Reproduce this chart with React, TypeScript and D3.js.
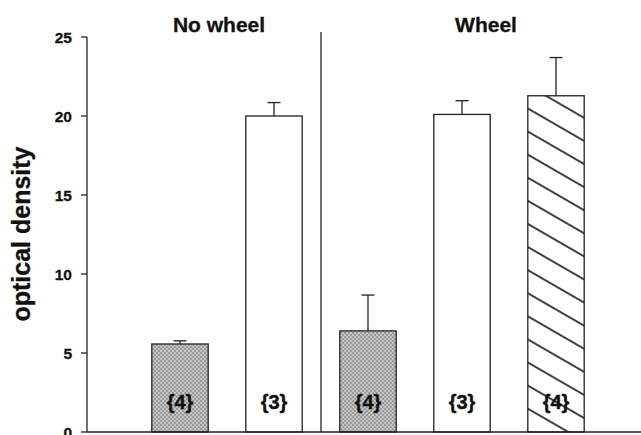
import React from "react";
import * as d3 from "d3";

// Bars in drawing order: two conditions without wheel, three with wheel
const categories = ["nw-a", "nw-b", "w-a", "w-b", "w-c"];
const means = [5.57, 20.0, 6.4, 20.1, 21.28];
const errors = [0.2, 0.85, 2.27, 0.87, 2.42];
const fills = ["dots", "white", "dots", "white", "hatch"];
const counts = ["{4}", "{3}", "{4}", "{3}", "{4}"];
const yTicks = [0, 5, 10, 15, 20, 25];
const groupTitles = ["No wheel", "Wheel"];

const W = 641;
const H = 435;
const axisX = 87;
const yTop = 37;
const yBottom = 432;
const FONT = "'Liberation Sans', Arial, sans-serif";

export default function App() {
  const y = d3.scaleLinear().domain([0, 25]).range([yBottom, yTop]);
  const x = d3
    .scaleBand<string>()
    .domain(categories)
    .range([133, 603])
    .paddingInner(0.4)
    .paddingOuter(0.2);
  const bw = x.bandwidth();
  const cx = (i: number) => (x(categories[i]) as number) + bw / 2;
  const dividerX = (cx(1) + cx(2)) / 2;

  const fillFor = (f: string) =>
    f === "dots" ? "url(#dots)" : f === "hatch" ? "url(#hatch)" : "#fff";

  return (
    <svg
      width={W}
      height={H}
      style={{ position: "absolute", left: 0, top: 0, background: "#fff" }}
    >
      <defs>
        <pattern id="dots" width="4" height="4" patternUnits="userSpaceOnUse">
          <rect width="4" height="4" fill="#c4c4c4" />
          <rect width="2" height="2" fill="#9a9a9a" />
          <rect x="2" y="2" width="2" height="2" fill="#9a9a9a" />
        </pattern>
        <pattern
          id="hatch"
          width="20"
          height="20"
          patternUnits="userSpaceOnUse"
          patternTransform="rotate(30)"
        >
          <rect width="20" height="20" fill="#fff" />
          <line x1="0" y1="10" x2="20" y2="10" stroke="#111" strokeWidth="1.6" />
        </pattern>
      </defs>

      {/* bars */}
      {means.map((m, i) => (
        <rect
          key={categories[i]}
          x={x(categories[i])}
          y={y(m)}
          width={bw}
          height={y(0) - y(m)}
          fill={fillFor(fills[i])}
          stroke="#222"
          strokeWidth={1.3}
        />
      ))}

      {/* error bars (upper only) */}
      {means.map((m, i) => (
        <g key={"err" + i} stroke="#222" strokeWidth={1.3}>
          <line x1={cx(i)} x2={cx(i)} y1={y(m)} y2={y(m + errors[i])} />
          <line
            x1={cx(i) - 6.5}
            x2={cx(i) + 6.5}
            y1={y(m + errors[i])}
            y2={y(m + errors[i])}
          />
        </g>
      ))}

      {/* sample sizes */}
      {counts.map((c, i) => (
        <text
          key={"n" + i}
          x={cx(i)}
          y={409}
          textAnchor="middle"
          fontFamily={FONT}
          fontWeight="bold"
          fontSize={20}
          fill="#111"
          stroke="#111"
          strokeWidth={0.4}
        >
          {c}
        </text>
      ))}

      {/* y axis */}
      <line x1={axisX} x2={axisX} y1={yTop} y2={yBottom} stroke="#222" strokeWidth={1.3} />
      {yTicks.map((t) => (
        <g key={"t" + t}>
          <line
            x1={axisX - 6}
            x2={axisX}
            y1={y(t)}
            y2={y(t)}
            stroke="#222"
            strokeWidth={1.3}
          />
          <text
            x={axisX - 15}
            y={y(t) + 5.5}
            textAnchor="end"
            fontFamily={FONT}
            fontWeight="bold"
            fontSize={15.5}
            fill="#111"
            stroke="#111"
            strokeWidth={0.3}
          >
            {t}
          </text>
        </g>
      ))}

      {/* x axis */}
      <line x1={axisX} x2={W} y1={yBottom} y2={yBottom} stroke="#222" strokeWidth={1.3} />

      {/* group divider */}
      <line x1={dividerX} x2={dividerX} y1={32} y2={yBottom} stroke="#222" strokeWidth={1.3} />

      {/* group titles */}
      <text
        x={219}
        y={32}
        textAnchor="middle"
        fontFamily={FONT}
        fontWeight="bold"
        fontSize={21}
        fill="#111"
        stroke="#111"
        strokeWidth={0.3}
      >
        {groupTitles[0]}
      </text>
      <text
        x={486}
        y={32}
        textAnchor="middle"
        fontFamily={FONT}
        fontWeight="bold"
        fontSize={21}
        fill="#111"
        stroke="#111"
        strokeWidth={0.3}
      >
        {groupTitles[1]}
      </text>

      {/* y axis title */}
      <text
        transform={`translate(30, ${234}) rotate(-90)`}
        textAnchor="middle"
        fontFamily={FONT}
        fontWeight="bold"
        fontSize={25}
        fill="#111"
        stroke="#111"
        strokeWidth={0.3}
      >
        optical density
      </text>
    </svg>
  );
}
